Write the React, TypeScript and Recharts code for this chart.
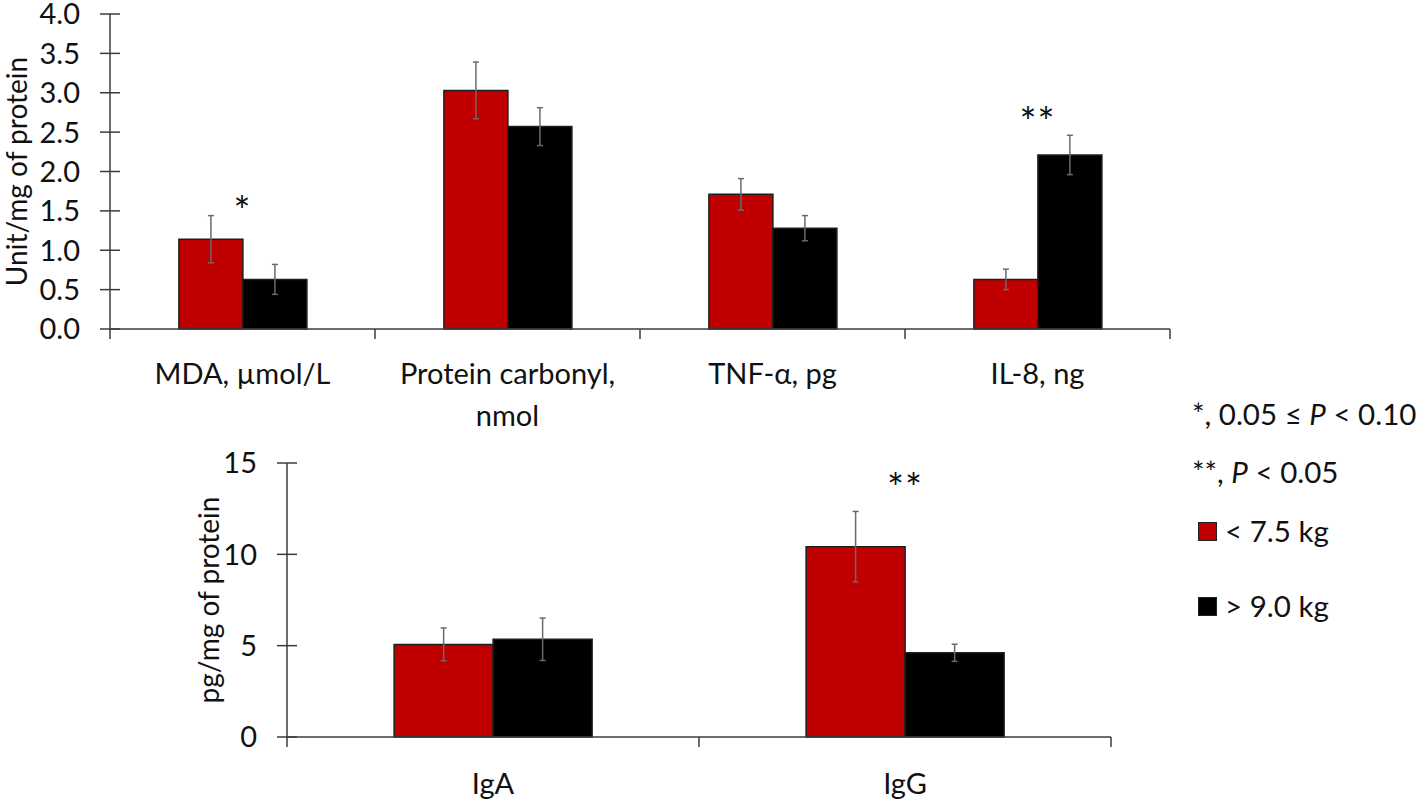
import React from 'react';
import { BarChart, Bar, XAxis, YAxis, ErrorBar, ReferenceDot, Label } from 'recharts';

// ---------- data ----------
const topCategories = ['MDA, µmol/L', 'Protein carbonyl,\nnmol', 'TNF-α, pg', 'IL-8, ng'];
const topLow = [1.14, 3.03, 1.71, 0.63];
const topLowErr = [0.30, 0.36, 0.20, 0.13];
const topHigh = [0.63, 2.57, 1.28, 2.21];
const topHighErr = [0.19, 0.24, 0.16, 0.25];
const topSig = ['*', '', '', '**'];
const topSigY = [1.6, null, null, 2.73];
const topTicks = [0, 0.5, 1.0, 1.5, 2.0, 2.5, 3.0, 3.5, 4.0];

const bottomCategories = ['IgA', 'IgG'];
const bottomLow = [5.07, 10.42];
const bottomLowErr = [0.9, 1.93];
const bottomHigh = [5.35, 4.61];
const bottomHighErr = [1.16, 0.47];
const bottomSig = ['', '**'];
const bottomSigY = [null, 14.07];
const bottomTicks = [0, 5, 10, 15];

const seriesNames = ['< 7.5 kg', '> 9.0 kg'];
const seriesColors = ['#C00000', '#000000'];
const topTitle = 'Unit/mg of protein';
const bottomTitle = 'pg/mg of protein';

// ---------- tables ----------
const topData = topCategories.map((c, i) => ({
  cat: c, low: topLow[i], lowErr: topLowErr[i], high: topHigh[i], highErr: topHighErr[i],
}));
const bottomData = bottomCategories.map((c, i) => ({
  cat: c, low: bottomLow[i], lowErr: bottomLowErr[i], high: bottomHigh[i], highErr: bottomHighErr[i],
}));

// ---------- style ----------
const FONT = 'Lato, "Open Sans", sans-serif';
const AXIS = '#3c3c3c';
const TEXT = '#111111';
const ERR = '#6a6a6a';
const FS = 29;
const TITLE_FS = 28;
const SIG_FS = 40;

const makeYTick = (decimals: number) => (props: any) => {
  const { x, y, payload } = props;
  return (
    <g>
      <line x1={x - 10} x2={x + 10} y1={y} y2={y} stroke={AXIS} strokeWidth={1.5} />
      <text x={x - 30} y={y + FS * 0.36} textAnchor="end" fontSize={FS} fill={TEXT} fontFamily={FONT}>
        {Number(payload.value).toFixed(decimals)}
      </text>
    </g>
  );
};

const makeXTick = (n: number, band: number, firstDy: number, lineH: number) => (props: any) => {
  const { x, y, payload, index } = props;
  const lines = String(payload.value).split('\n');
  return (
    <g>
      <line x1={x - band / 2} x2={x - band / 2} y1={y} y2={y + 10} stroke={AXIS} strokeWidth={1.5} />
      {index === n - 1 && <line x1={x + band / 2} x2={x + band / 2} y1={y} y2={y + 10} stroke={AXIS} strokeWidth={1.5} />}
      <text x={x} y={y + firstDy} textAnchor="middle" dominantBaseline="central" fontSize={FS} fill={TEXT} fontFamily={FONT}>
        {lines.map((l, i) => (
          <tspan key={i} x={x} dy={i === 0 ? 0 : lineH}>{l}</tspan>
        ))}
      </text>
    </g>
  );
};

const makeTitle = (text: string, dx: number) => (props: any) => {
  const vb = props.viewBox || {};
  const cx = vb.x + vb.width - dx;
  const cy = vb.y + vb.height / 2;
  return (
    <text x={cx} y={cy} transform={`rotate(-90 ${cx} ${cy})`} textAnchor="middle" dominantBaseline="central"
      fontSize={TITLE_FS} fill={TEXT} fontFamily={FONT}>{text}</text>
  );
};

const sigLabel = (text: string) => (props: any) => {
  const vb = props.viewBox || {};
  const cx = vb.x + (vb.width || 0) / 2;
  const cy = vb.y + (vb.height || 0) / 2;
  return (
    <text x={cx} y={cy + SIG_FS * 0.57} textAnchor="middle" fontSize={SIG_FS} letterSpacing={1}
      fill={TEXT} fontFamily={FONT}>{text}</text>
  );
};

const barStroke = '#1e1e1e';

export default function App() {
  const topW = 1418, topH = 430;
  const topMargin = { top: 14, right: 248, left: 10, bottom: 11 };
  const topBand = (topW - topMargin.left - 100 - topMargin.right) / topCategories.length;

  const botH = 369;
  const botMargin = { top: 33, right: 307, left: 187, bottom: 12 };
  const botBand = (topW - botMargin.left - 100 - botMargin.right) / bottomCategories.length;

  return (
    <div style={{ position: 'absolute', left: 0, top: 0, width: 1418, height: 799, background: '#fff', fontFamily: FONT }}>
      <div style={{ position: 'absolute', left: 0, top: 0 }}>
        <BarChart width={topW} height={topH} data={topData} margin={topMargin} barGap={0} barCategoryGap="26%">
          <XAxis dataKey="cat" interval={0} tickSize={0} tickMargin={0} tickLine={false} height={90}
            axisLine={{ stroke: AXIS, strokeWidth: 1.5 }}
            tick={makeXTick(topCategories.length, topBand, 43, 42)} />
          <YAxis domain={[0, 4]} ticks={topTicks} interval={0} width={100} tickSize={0} tickMargin={0} tickLine={false}
            axisLine={{ stroke: AXIS, strokeWidth: 1.5 }} tick={makeYTick(1)}>
            <Label content={makeTitle(topTitle, 94)} />
          </YAxis>
          <Bar dataKey="low" name={seriesNames[0]} fill={seriesColors[0]} stroke={barStroke} strokeWidth={1.5} isAnimationActive={false}>
            <ErrorBar dataKey="lowErr" width={3} stroke={ERR} strokeWidth={1.5} direction="y" />
          </Bar>
          <Bar dataKey="high" name={seriesNames[1]} fill={seriesColors[1]} stroke={barStroke} strokeWidth={1.5} isAnimationActive={false}>
            <ErrorBar dataKey="highErr" width={3} stroke={ERR} strokeWidth={1.5} direction="y" />
          </Bar>
          {topCategories.map((c, i) => topSig[i] ? (
            <ReferenceDot key={c} x={c} y={topSigY[i] as number} r={0} fill="none" stroke="none" ifOverflow="visible"
              label={sigLabel(topSig[i])} />
          ) : null)}
        </BarChart>
      </div>
      <div style={{ position: 'absolute', left: 0, top: topH }}>
        <BarChart width={topW} height={botH} data={bottomData} margin={botMargin} barGap={0} barCategoryGap="26%">
          <XAxis dataKey="cat" interval={0} tickSize={0} tickMargin={0} tickLine={false} height={50}
            axisLine={{ stroke: AXIS, strokeWidth: 1.5 }}
            tick={makeXTick(bottomCategories.length, botBand, 45, 42)} />
          <YAxis domain={[0, 15]} ticks={bottomTicks} interval={0} width={100} tickSize={0} tickMargin={0} tickLine={false}
            axisLine={{ stroke: AXIS, strokeWidth: 1.5 }} tick={makeYTick(0)}>
            <Label content={makeTitle(bottomTitle, 79)} />
          </YAxis>
          <Bar dataKey="low" name={seriesNames[0]} fill={seriesColors[0]} stroke={barStroke} strokeWidth={1.5} isAnimationActive={false}>
            <ErrorBar dataKey="lowErr" width={3} stroke={ERR} strokeWidth={1.5} direction="y" />
          </Bar>
          <Bar dataKey="high" name={seriesNames[1]} fill={seriesColors[1]} stroke={barStroke} strokeWidth={1.5} isAnimationActive={false}>
            <ErrorBar dataKey="highErr" width={3} stroke={ERR} strokeWidth={1.5} direction="y" />
          </Bar>
          {bottomCategories.map((c, i) => bottomSig[i] ? (
            <ReferenceDot key={c} x={c} y={bottomSigY[i] as number} r={0} fill="none" stroke="none" ifOverflow="visible"
              label={sigLabel(bottomSig[i])} />
          ) : null)}
        </BarChart>
      </div>
      {/* legend */}
      <div style={{ position: 'absolute', left: 1192, top: 0, fontSize: 29.5, color: TEXT, fontFamily: FONT, whiteSpace: 'nowrap' }}>
        <div style={{ position: 'absolute', top: 414 - 18, lineHeight: '36px' }}>
          *, 0.05 ≤ <i>P</i> &lt; 0.10
        </div>
        <div style={{ position: 'absolute', top: 472 - 18, lineHeight: '36px' }}>
          **, <i>P</i> &lt; 0.05
        </div>
        {seriesNames.map((name, i) => (
          <div key={name} style={{ position: 'absolute', left: 6, top: (i === 0 ? 531 : 606) - 18, lineHeight: '36px', display: 'flex', alignItems: 'center' }}>
            <span style={{ display: 'inline-block', width: 17, height: 17, background: seriesColors[i], border: '1px solid #222', marginRight: 8 }} />
            <span>{name}</span>
          </div>
        ))}
      </div>
    </div>
  );
}
